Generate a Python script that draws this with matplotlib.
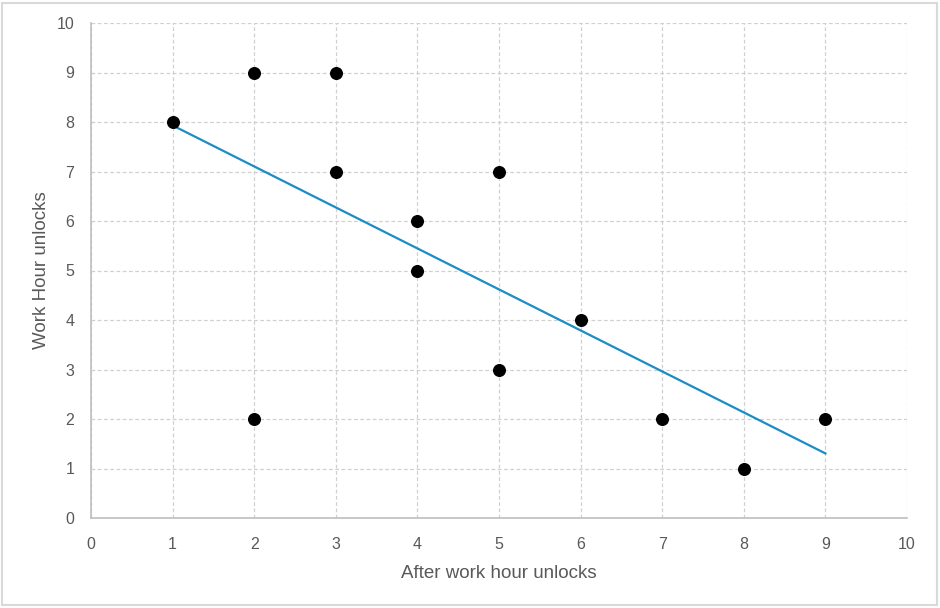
import numpy as np
import matplotlib.pyplot as plt
from matplotlib.patches import Rectangle

# after work hour unlocks vs work hour unlocks
after_work = [1, 2, 2, 3, 3, 4, 4, 5, 5, 6, 7, 8, 9]
work_hour = [8, 9, 2, 9, 7, 6, 5, 7, 3, 4, 2, 1, 2]

x_ticks = list(range(0, 11))
y_ticks = list(range(0, 11))

plt.rcParams['font.family'] = ['Liberation Sans', 'DejaVu Sans']

fig = plt.figure(figsize=(9.4, 6.08), dpi=100)
ax = fig.add_axes([91 / 940, 1 - 518 / 608, (907 - 91) / 940, (518 - 23) / 608])

# gray frame round the whole chart
fig.patches.append(Rectangle((2 / 940, 3 / 608), 935 / 940, 602 / 608, transform=fig.transFigure,
                             fill=False, edgecolor='#d9d9d9', linewidth=1.5))

ax.scatter(after_work, work_hour, s=70, color='black', zorder=3, clip_on=False)

# linear trend line
z = np.polyfit(after_work, work_hour, 1)
p = np.poly1d(z)
xs = np.array([min(after_work), max(after_work)])
ax.plot(xs, p(xs), color='#1a8dc4', linewidth=1.6, zorder=2)

ax.set_xlim(0, 10)
ax.set_ylim(0, 10)
ax.set_xticks(x_ticks)
ax.set_yticks(y_ticks)
ax.grid(True, linestyle=(0, (3, 2)), color='#d0d0d0', linewidth=0.9)
ax.set_axisbelow(True)

for s in ['top', 'right']:
    ax.spines[s].set_visible(False)
for s in ['left', 'bottom']:
    ax.spines[s].set_color('#bfbfbf')
    ax.spines[s].set_linewidth(1.2)

ax.tick_params(length=0, labelsize=11.5, colors='#595959')
ax.tick_params(axis='x', pad=14)
ax.tick_params(axis='y', pad=12)
ax.set_xlabel('After work hour unlocks', fontsize=13.5, color='#595959', labelpad=9)
ax.set_ylabel('Work Hour unlocks', fontsize=13.5, color='#595959', labelpad=5)

fig.savefig('out.png', dpi=100)
